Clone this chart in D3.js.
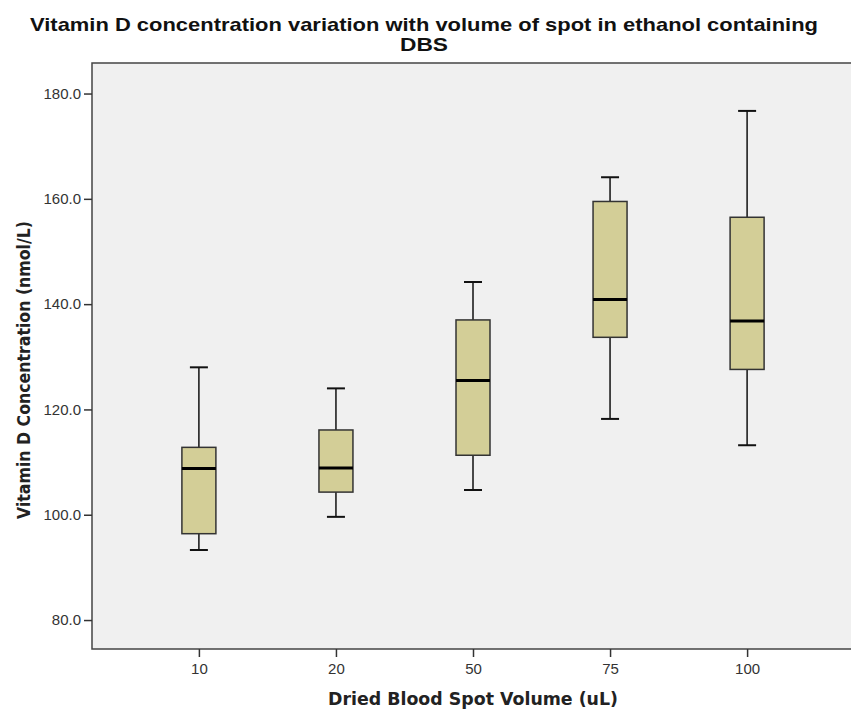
<!DOCTYPE html>
<html lang="en">
<head>
  <meta charset="utf-8">
  <title>Vitamin D boxplot</title>
  <style>
    html,body { margin:0; padding:0; background:#fff; }
    svg { display:block; font-family:"Liberation Sans", Arial, sans-serif; }
  </style>
  <script src="https://d3js.org/d3.v7.min.js"></script>
</head>
<body>
<svg width="851" height="710"></svg>
<script>
// box stats (nmol/L)
const volumes   = ["10", "20", "50", "75", "100"];
const whiskLow  = [93.3, 99.6, 104.7, 118.2, 113.2];
const q1        = [96.4, 104.3, 111.3, 133.7, 127.6];
const medians   = [108.8, 108.9, 125.5, 140.9, 136.8];
const q3        = [112.8, 116.1, 137.0, 159.5, 156.5];
const whiskHigh = [128.0, 124.0, 144.2, 164.1, 176.7];
const yTicks    = [80, 100, 120, 140, 160, 180];

const boxes = volumes.map((v, i) => ({
  v, lo: whiskLow[i], q1: q1[i], med: medians[i], q3: q3[i], hi: whiskHigh[i]
}));

const plotL = 92, plotR = 854, plotT = 63, plotB = 649;
const svg = d3.select("svg");

const x = d3.scalePoint().domain(volumes).range([plotL, plotR]).padding(0.78);
const y = d3.scaleLinear().domain([74.5, 185.8]).range([plotB, plotT]);

// plot background
svg.append("rect")
  .attr("x", plotL).attr("y", plotT)
  .attr("width", 851 - plotL).attr("height", plotB - plotT)
  .attr("fill", "#f0f0f0");

// border lines (left, top, bottom)
svg.append("path")
  .attr("d", `M851,${plotT}H${plotL}V${plotB}H851`)
  .attr("fill", "none").attr("stroke", "#444").attr("stroke-width", 1.5);

// axes
const yAxis = svg.append("g")
  .attr("transform", `translate(${plotL},0)`)
  .call(d3.axisLeft(y).tickValues(yTicks).tickSize(8).tickPadding(3).tickFormat(d3.format(".1f")));
const xAxis = svg.append("g")
  .attr("transform", `translate(0,${plotB})`)
  .call(d3.axisBottom(x).tickSize(8).tickPadding(6));
[yAxis, xAxis].forEach(g => {
  g.select(".domain").remove();
  g.selectAll(".tick line").attr("stroke", "#333").attr("stroke-width", 1.5);
  g.selectAll(".tick text").attr("fill", "#333").style("font-size", "15px")
    .style("font-family", "'Liberation Sans', Arial, sans-serif");
});

const bw = 34, cw = 18;
const g = svg.append("g").selectAll("g").data(boxes).join("g")
  .attr("transform", d => `translate(${x(d.v)},0)`);

// whiskers
g.append("line").attr("y1", d => y(d.hi)).attr("y2", d => y(d.q3))
  .attr("stroke", "#111").attr("stroke-width", 1.5);
g.append("line").attr("y1", d => y(d.q1)).attr("y2", d => y(d.lo))
  .attr("stroke", "#111").attr("stroke-width", 1.5);
g.append("line").attr("x1", -cw / 2).attr("x2", cw / 2)
  .attr("y1", d => y(d.hi)).attr("y2", d => y(d.hi))
  .attr("stroke", "#111").attr("stroke-width", 2);
g.append("line").attr("x1", -cw / 2).attr("x2", cw / 2)
  .attr("y1", d => y(d.lo)).attr("y2", d => y(d.lo))
  .attr("stroke", "#111").attr("stroke-width", 2);

// boxes
g.append("rect")
  .attr("x", -bw / 2).attr("width", bw)
  .attr("y", d => y(d.q3)).attr("height", d => y(d.q1) - y(d.q3))
  .attr("fill", "#d3ce97").attr("stroke", "#333").attr("stroke-width", 1.5);

// medians
g.append("line").attr("x1", -bw / 2).attr("x2", bw / 2)
  .attr("y1", d => y(d.med)).attr("y2", d => y(d.med))
  .attr("stroke", "#000").attr("stroke-width", 3);

// titles
svg.append("text").attr("x", 424).attr("y", 31).attr("text-anchor", "middle")
  .attr("textLength", 788).attr("lengthAdjust", "spacingAndGlyphs")
  .style("font-size", "19px").style("font-weight", "bold").attr("fill", "#111")
  .text("Vitamin D concentration variation with volume of spot in ethanol containing");
svg.append("text").attr("x", 424).attr("y", 51).attr("text-anchor", "middle")
  .attr("textLength", 48).attr("lengthAdjust", "spacingAndGlyphs")
  .style("font-size", "19px").style("font-weight", "bold").attr("fill", "#111")
  .text("DBS");

svg.append("text").attr("x", 473).attr("y", 705).attr("text-anchor", "middle")
  .attr("textLength", 290).attr("lengthAdjust", "spacingAndGlyphs")
  .style("font-family", "'DejaVu Sans', Verdana, sans-serif")
  .style("font-size", "17px").style("font-weight", "bold").attr("fill", "#222")
  .text("Dried Blood Spot Volume (uL)");

svg.append("text")
  .attr("transform", `translate(30,370) rotate(-90)`)
  .attr("text-anchor", "middle")
  .attr("textLength", 298).attr("lengthAdjust", "spacingAndGlyphs")
  .style("font-family", "'DejaVu Sans', Verdana, sans-serif")
  .style("font-size", "17px").style("font-weight", "bold").attr("fill", "#222")
  .text("Vitamin D Concentration (nmol/L)");
</script>
</body>
</html>
